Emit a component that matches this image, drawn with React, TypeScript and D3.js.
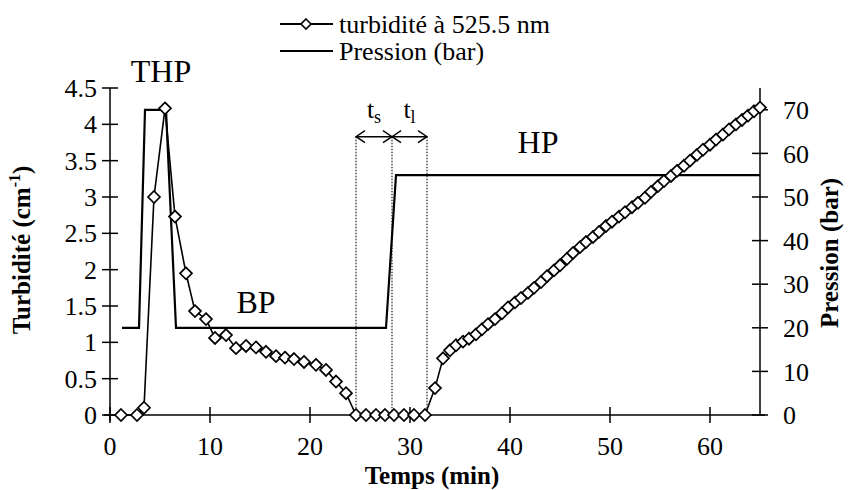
import React from "react";
import * as d3 from "d3";

const turbTime = [1.1, 2.7, 3.4, 4.4, 5.5, 6.5, 7.6, 8.5, 9.6, 10.5, 11.6, 12.6, 13.6, 14.6, 15.6, 16.6, 17.5, 18.4, 19.4, 20.6, 21.6, 22.6, 23.6, 24.6, 25.6, 26.6, 27.5, 28.4, 29.4, 30.4, 31.5, 32.5, 33.3, 34.0, 34.6, 35.3, 35.9, 36.6, 37.2, 37.8, 38.5, 39.2, 39.8, 40.5, 41.1, 41.8, 42.4, 43.1, 43.7, 44.4, 45.0, 45.7, 46.3, 47.0, 47.6, 48.3, 48.9, 49.6, 50.2, 50.9, 51.5, 52.2, 52.8, 53.5, 54.1, 54.8, 55.4, 56.1, 56.7, 57.4, 58.0, 58.7, 59.3, 60.0, 60.6, 61.3, 61.9, 62.6, 63.2, 63.8, 64.4, 65.0];
const turbValue = [0, 0, 0.1, 3.0, 4.22, 2.73, 1.95, 1.43, 1.32, 1.06, 1.1, 0.92, 0.95, 0.93, 0.87, 0.81, 0.79, 0.77, 0.73, 0.69, 0.62, 0.46, 0.3, 0, 0, 0, 0, 0, 0, 0, 0, 0.37, 0.78, 0.89, 0.96, 1.01, 1.05, 1.11, 1.18, 1.25, 1.32, 1.4, 1.48, 1.55, 1.61, 1.68, 1.75, 1.83, 1.91, 1.99, 2.06, 2.15, 2.23, 2.31, 2.38, 2.45, 2.52, 2.6, 2.66, 2.73, 2.79, 2.86, 2.92, 2.99, 3.07, 3.15, 3.22, 3.29, 3.36, 3.43, 3.5, 3.58, 3.65, 3.72, 3.79, 3.86, 3.93, 4.0, 4.06, 4.12, 4.18, 4.23];

const presTime = [1.2, 2.9, 3.5, 5.6, 6.6, 27.6, 28.6, 65];
const presValue = [20, 20, 70, 70, 20, 20, 55, 55];

const xTicks = [0, 10, 20, 30, 40, 50, 60];
const yLeftTicks = [0, 0.5, 1, 1.5, 2, 2.5, 3, 3.5, 4, 4.5];
const yLeftLabels = ["0", "0.5", "1", "1.5", "2", "2.5", "3", "3.5", "4", "4.5"];
const yRightTicks = [0, 10, 20, 30, 40, 50, 60, 70];

const phaseMarks = [24.6, 28.2, 31.7];
const arrowLevel = 3.83;

const FONT = "Liberation Serif, DejaVu Serif, serif";

export default function App() {
  const x = d3.scaleLinear().domain([0, 65]).range([110, 760]);
  const yL = d3.scaleLinear().domain([0, 4.5]).range([415, 88]);
  const yR = d3.scaleLinear().domain([0, 75]).range([415, 88]);

  const turb = turbTime.map((t, i) => [t, turbValue[i]] as [number, number]);
  const pres = presTime.map((t, i) => [t, presValue[i]] as [number, number]);

  const turbLine = d3.line<[number, number]>().x((d) => x(d[0])).y((d) => yL(d[1]))(turb) || "";
  const presLine = d3.line<[number, number]>().x((d) => x(d[0])).y((d) => yR(d[1]))(pres) || "";

  const diamond = (cx: number, cy: number, r = 6) =>
    `M${cx},${cy - r}L${cx + r},${cy}L${cx},${cy + r}L${cx - r},${cy}Z`;

  const x0 = x(0);
  const x1 = x(65);
  const yBase = yL(0);
  const yTop = yL(4.5);
  const ay = yL(arrowLevel);

  const arrowHead = (px: number, dir: number) =>
    `M${px + dir * 9},${ay - 6}L${px},${ay}L${px + dir * 9},${ay + 6}`;

  const ts: React.CSSProperties = { fontFamily: FONT };

  return (
    <svg width={848} height={490} style={{ position: "absolute", left: 0, top: 0, background: "#fff", fontFamily: FONT }}>
      <rect x={0} y={0} width={848} height={490} fill="#fff" />
      {/* Legend */}
      <g>
        <line x1={280} x2={333} y1={24} y2={24} stroke="#000" strokeWidth={2} />
        <path d={diamond(306, 24, 5)} fill="#fff" stroke="#000" strokeWidth={1.6} />
        <text x={339} y={33} fontSize={26} style={ts}>turbidité à 525.5 nm</text>
        <line x1={280} x2={333} y1={51} y2={51} stroke="#000" strokeWidth={2} />
        <text x={339} y={60} fontSize={26} style={ts}>Pression (bar)</text>
      </g>

      {/* Axes */}
      <line x1={x0} x2={x0} y1={yTop} y2={yBase + 6} stroke="#000" strokeWidth={1.5} />
      <line x1={x1} x2={x1} y1={yTop} y2={yBase} stroke="#000" strokeWidth={1.5} />
      <line x1={x0 - 6} x2={x1 + 5} y1={yBase} y2={yBase} stroke="#000" strokeWidth={1.5} />

      {yLeftTicks.map((v, i) => (
        <g key={"yl" + i}>
          <line x1={x0 - 8} x2={x0 + 8} y1={yL(v)} y2={yL(v)} stroke="#000" strokeWidth={1.5} />
          <text x={97} y={yL(v)} dy="0.35em" textAnchor="end" fontSize={26} style={ts}>{yLeftLabels[i]}</text>
        </g>
      ))}
      {yRightTicks.map((v, i) => (
        <g key={"yr" + i}>
          <line x1={x1 - 8} x2={x1 + 8} y1={yR(v)} y2={yR(v)} stroke="#000" strokeWidth={1.5} />
          <text x={783} y={yR(v)} dy="0.35em" textAnchor="start" fontSize={26} style={ts}>{v}</text>
        </g>
      ))}
      {xTicks.map((v, i) => (
        <g key={"x" + i}>
          <line x1={x(v)} x2={x(v)} y1={yBase - 8} y2={yBase + 8} stroke="#000" strokeWidth={1.5} />
          <text x={x(v)} y={455} textAnchor="middle" fontSize={26} style={ts}>{v}</text>
        </g>
      ))}

      {/* Axis titles */}
      <text x={432} y={484} textAnchor="middle" fontSize={25} fontWeight="bold" style={ts}>Temps (min)</text>
      <text transform={`translate(30,${250}) rotate(-90)`} textAnchor="middle" fontSize={25} fontWeight="bold" style={ts}>
        Turbidité (cm<tspan fontSize={16} dy={-10}>-1</tspan><tspan dy={10}>)</tspan>
      </text>
      <text transform={`translate(838,${253}) rotate(-90)`} textAnchor="middle" fontSize={25} fontWeight="bold" style={ts}>Pression (bar)</text>

      {/* Phase dotted lines and arrows */}
      {phaseMarks.map((t, i) => (
        <line key={"pm" + i} x1={x(t)} x2={x(t)} y1={ay} y2={yBase} stroke="#333" strokeWidth={1.3} strokeDasharray="1.5 1.5" />
      ))}
      {phaseMarks.slice(0, 2).map((t, i) => {
        const a = x(t);
        const b = x(phaseMarks[i + 1]);
        return (
          <g key={"ar" + i} fill="none" stroke="#000" strokeWidth={1.4}>
            <line x1={a} x2={b} y1={ay} y2={ay} />
            <path d={arrowHead(a, 1)} />
            <path d={arrowHead(b, -1)} />
          </g>
        );
      })}
      <text x={(x(phaseMarks[0]) + x(phaseMarks[1])) / 2} y={118} textAnchor="middle" fontSize={26} style={ts}>
        t<tspan fontSize={18} dy={5}>s</tspan>
      </text>
      <text x={(x(phaseMarks[1]) + x(phaseMarks[2])) / 2} y={118} textAnchor="middle" fontSize={26} style={ts}>
        t<tspan fontSize={18} dy={5}>l</tspan>
      </text>

      {/* Phase labels */}
      <text x={161} y={82} textAnchor="middle" fontSize={32} style={ts}>THP</text>
      <text x={256} y={313} textAnchor="middle" fontSize={32} style={ts}>BP</text>
      <text x={538} y={153} textAnchor="middle" fontSize={32} style={ts}>HP</text>

      {/* Pressure */}
      <path d={presLine} fill="none" stroke="#000" strokeWidth={2.2} />

      {/* Turbidity */}
      <path d={turbLine} fill="none" stroke="#000" strokeWidth={1.6} />
      {turb.map((d, i) => (
        <path key={"m" + i} d={diamond(x(d[0]), yL(d[1]))} fill="#fff" stroke="#000" strokeWidth={1.7} />
      ))}
    </svg>
  );
}
